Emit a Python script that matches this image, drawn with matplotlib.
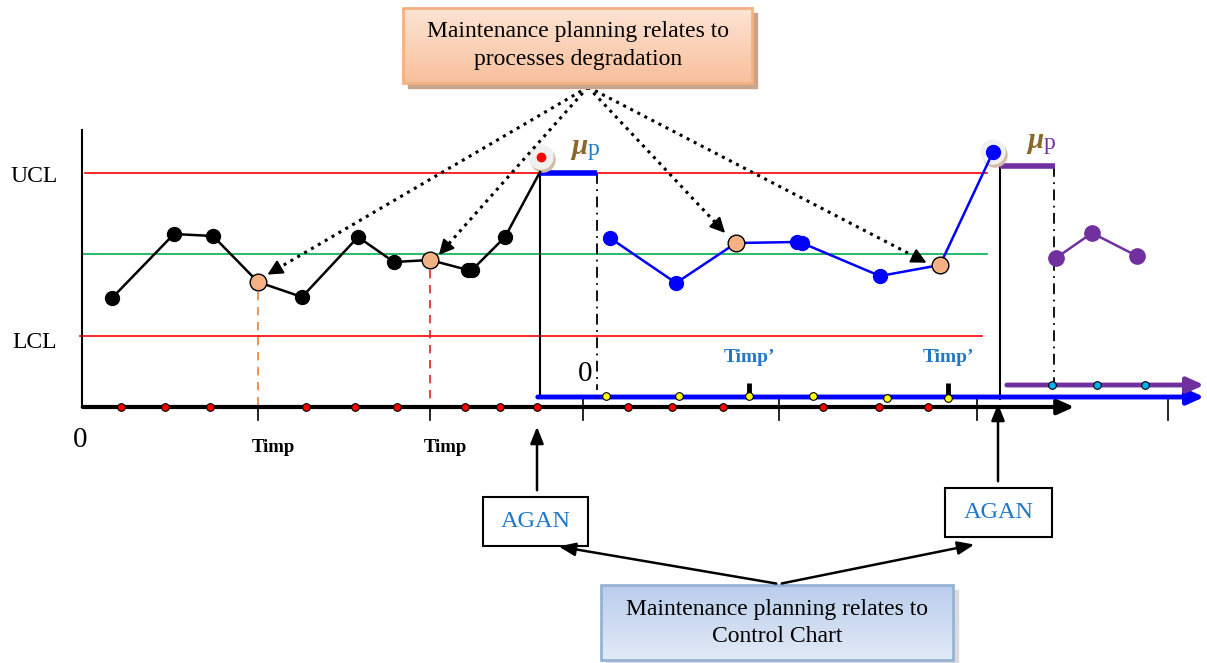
import numpy as np
import matplotlib
matplotlib.use('Agg')
import matplotlib.pyplot as plt
from matplotlib.patches import Rectangle, Circle

plt.rcParams['font.family'] = ['Liberation Serif', 'DejaVu Serif']

# positions are in figure pixels (x right, y down)
black_x = [112, 174, 213, 258, 302, 358, 394, 430, 468, 472, 505, 540]
black_y = [298, 234, 236, 282, 297, 237, 262, 260, 270, 270, 237, 172]
black_orange = [3, 7]

blue_x = [610, 676, 736, 797, 802, 880, 940, 993]
blue_y = [238, 283, 243, 242, 243, 276, 265, 152]
blue_orange = [2, 6]

purple_x = [1056, 1092, 1137]
purple_y = [258, 233, 256]

red_axis_x = [121, 165, 210, 306, 355, 397, 465, 500, 537, 628, 672, 723, 823, 879, 928]
yellow_x = [606, 679, 749, 813, 887, 948]
yellow_y = [396, 396, 396, 396, 398, 398]
cyan_x = [1052, 1097, 1145]

ucl, center, lcl = 173, 254, 336
axis_y, blue_axis_y, purple_axis_y = 407, 397, 385

timp_x = [258, 430]
timp2_x = [749, 948]
tick_x = [258, 430, 583, 779, 977, 1168]

blue_txt = '#1f78c8'
purple = '#7030a0'

fig = plt.figure(figsize=(12.07, 6.63), dpi=100)
ax = fig.add_axes([0, 0, 1, 1])
ax.set_xlim(0, 1207)
ax.set_ylim(663, 0)
ax.axis('off')

# control limits
ax.plot([85, 987], [ucl, ucl], color='#ff0000', lw=1.2)
ax.plot([82, 987], [center, center], color='#00b050', lw=1.2)
ax.plot([80, 982], [lcl, lcl], color='#ff0000', lw=1.2)
ax.text(10, ucl + 4, 'UCL', fontsize=17, ha='left', va='center')
ax.text(12, lcl + 6, 'LCL', fontsize=17, ha='left', va='center')

# left axis and time axes
ax.plot([82, 82], [130, axis_y], color='k', lw=1.5)
ax.annotate('', xy=(1077, axis_y), xytext=(80, axis_y),
            arrowprops=dict(arrowstyle='-|>,head_length=1.0,head_width=0.45', color='k', lw=3))
ax.annotate('', xy=(1207, blue_axis_y), xytext=(535, blue_axis_y),
            arrowprops=dict(arrowstyle='-|>,head_length=1.0,head_width=0.45', color='#0000ff', lw=3.5))
ax.annotate('', xy=(1207, purple_axis_y), xytext=(1004, purple_axis_y),
            arrowprops=dict(arrowstyle='-|>,head_length=1.0,head_width=0.45', color=purple, lw=3.5))
for tx in tick_x:
    y0 = blue_axis_y if tx > 540 else axis_y
    ax.plot([tx, tx], [y0, 420], color='k', lw=1.2)
ax.text(80, 440, '0', fontsize=21, ha='center', va='center')
ax.text(585, 374, '0', fontsize=21, ha='center', va='center')

# phase vertical lines
ax.plot([540, 540], [ucl, blue_axis_y], color='k', lw=1.5)
ax.plot([1000, 1000], [166, purple_axis_y + 14], color='k', lw=1.5)
ax.plot([597, 597], [ucl, 390], color='k', lw=1.3, ls=(0, (6, 3, 1, 3)))
ax.plot([1054, 1054], [166, 392], color='k', lw=1.3, ls=(0, (6, 3, 1, 3)))
ax.plot([540, 597], [ucl, ucl], color='#0000ff', lw=4, solid_capstyle='butt')
ax.plot([1000, 1055], [166, 166], color=purple, lw=4, solid_capstyle='butt')

# mu_p labels
ax.text(587, 147, 'μ', fontsize=21, style='italic', fontweight='bold', color='#8a6a2a', ha='right', va='center')
ax.text(588, 149, 'p', fontsize=17, color=blue_txt, ha='left', va='center')
ax.text(1043, 141, 'μ', fontsize=21, style='italic', fontweight='bold', color='#8a6a2a', ha='right', va='center')
ax.text(1044, 143, 'p', fontsize=17, color=purple, ha='left', va='center')

# impulse dashed lines
ax.plot([timp_x[0], timp_x[0]], [292, axis_y], color='#f08030', lw=1.2, ls=(0, (5, 4)))
ax.plot([timp_x[1], timp_x[1]], [270, axis_y], color='#e02020', lw=1.2, ls=(0, (5, 4)))
for tx in timp_x:
    ax.text(tx + 15, 447, 'Timp', fontsize=13.5, fontweight='bold', ha='center', va='center')
for tx in timp2_x:
    ax.text(tx, 357, 'Timp\u2019', fontsize=14, fontweight='bold', color=blue_txt, ha='center', va='center')
    ax.plot([tx, tx], [383, blue_axis_y], color='k', lw=3.5, solid_capstyle='butt')

# halos at out-of-control points
for cx, cy in [(541, 157), (993, 152)]:
    ax.add_patch(Circle((cx + 2, cy + 3), 12, color='#d2bba8', zorder=3))
    ax.add_patch(Circle((cx, cy), 12, color='#f0f0f0', zorder=3))

# series
ax.plot(black_x, black_y, color='k', lw=1.8, zorder=4)
ax.plot(black_x[:-1], black_y[:-1], 'o', color='k', ms=10, zorder=5)
ax.plot(blue_x, blue_y, color='#0000ff', lw=1.8, zorder=4)
ax.plot(blue_x, blue_y, 'o', color='#0000ff', ms=10, zorder=5)
ax.plot(purple_x, purple_y, color=purple, lw=1.8, zorder=4)
ax.plot(purple_x, purple_y, 'o', color=purple, ms=11, zorder=5)
for i in black_orange:
    ax.plot(black_x[i], black_y[i], 'o', mfc='#f4b183', mec='k', mew=1, ms=12, zorder=6)
for i in blue_orange:
    ax.plot(blue_x[i], blue_y[i], 'o', mfc='#f4b183', mec='k', mew=1, ms=12, zorder=6)
ax.plot(541, 157, 'o', color='#ff0000', ms=6, zorder=6)

# axis dots
ax.plot(red_axis_x, [axis_y] * len(red_axis_x), 'o', mfc='#ff0000', mec='k', mew=0.8, ms=5.5, zorder=6)
ax.plot(yellow_x, yellow_y, 'o', mfc='#ffff00', mec='k', mew=0.8, ms=5.5, zorder=6)
ax.plot(cyan_x, [purple_axis_y] * len(cyan_x), 'o', mfc='#00b0f0', mec='k', mew=0.8, ms=5.5, zorder=6)


def grad_box(x0, y0, x1, y1, c_top, c_bot, edge, shadow):
    ax.add_patch(Rectangle((x0 + 5, y0 + 5), x1 - x0, y1 - y0, color=shadow, zorder=7))
    top = np.array(matplotlib.colors.to_rgb(c_top))
    bot = np.array(matplotlib.colors.to_rgb(c_bot))
    t = np.linspace(0, 1, 64)[:, None, None]
    img = top * (1 - t) + bot * t
    img = np.repeat(img, 2, axis=1)
    ax.imshow(img, extent=(x0, x1, y1, y0), aspect='auto', zorder=8)
    ax.add_patch(Rectangle((x0, y0), x1 - x0, y1 - y0, fill=False, ec=edge, lw=2, zorder=9))
    ax.set_xlim(0, 1207)
    ax.set_ylim(663, 0)


grad_box(403, 8, 752, 83, '#fde4d4', '#f8c09c', '#f4b183', '#c9a48c')
ax.text(578, 32, 'Maintenance planning relates to', fontsize=17, ha='center', va='center', zorder=10)
ax.text(578, 60, 'processes degradation', fontsize=17, ha='center', va='center', zorder=10)

grad_box(601, 585, 953, 660, '#b9cdec', '#e2eaf6', '#95b3d7', '#dadada')
ax.text(777, 609, 'Maintenance planning relates to', fontsize=17, ha='center', va='center', zorder=10)
ax.text(777, 636, 'Control Chart', fontsize=17, ha='center', va='center', zorder=10)

# dotted arrows from top box
apex = np.array([588.0, 87.0])
targets = [(265, 276), (437, 257), (727, 235), (929, 264)]
for tx, ty in targets:
    tip = np.array([tx, ty], dtype=float)
    u = (tip - apex) / np.hypot(*(tip - apex))
    ax.plot([apex[0], tip[0] - u[0] * 10], [apex[1], tip[1] - u[1] * 10], color='k', lw=2.2, ls=(0, (1, 1.6)), zorder=5)
    ax.annotate('', xy=tip, xytext=tip - u * 14,
                arrowprops=dict(arrowstyle='-|>,head_length=0.9,head_width=0.45', color='k', lw=1.5), zorder=6)

# AGAN boxes
for x0, y0, x1, y1 in [(483, 497, 588, 546), (945, 488, 1052, 537)]:
    ax.add_patch(Rectangle((x0, y0), x1 - x0, y1 - y0, fc='white', ec='k', lw=1.5, zorder=7))
    ax.text((x0 + x1) / 2, (y0 + y1) / 2, 'AGAN', fontsize=17.5, color=blue_txt, ha='center', va='center', zorder=8)
ax.annotate('', xy=(537, 424), xytext=(537, 493),
            arrowprops=dict(arrowstyle='-|>,head_length=1.0,head_width=0.4', color='k', lw=1.8))
ax.annotate('', xy=(998, 401), xytext=(998, 484),
            arrowprops=dict(arrowstyle='-|>,head_length=1.0,head_width=0.4', color='k', lw=1.8))
ax.annotate('', xy=(556, 546), xytext=(779, 584),
            arrowprops=dict(arrowstyle='-|>,head_length=1.0,head_width=0.4', color='k', lw=1.8), zorder=10)
ax.annotate('', xy=(977, 544), xytext=(779, 584),
            arrowprops=dict(arrowstyle='-|>,head_length=1.0,head_width=0.4', color='k', lw=1.8), zorder=10)

fig.savefig('out.png', dpi=100)
